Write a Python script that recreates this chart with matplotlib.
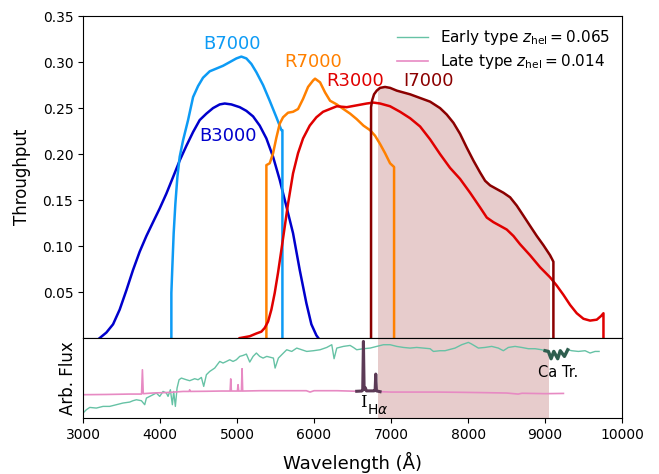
import numpy as np
import matplotlib
matplotlib.use("Agg")
import matplotlib.pyplot as plt
from matplotlib.patches import Rectangle

# ---------------- Throughput curves ----------------
b3000_wl = [3216, 3303, 3390, 3476, 3563, 3649, 3736, 3823, 3909, 3996, 4082, 4169,
            4255, 4342, 4429, 4515, 4602, 4688, 4775, 4840, 4926, 5035, 5121, 5208,
            5294, 5381, 5468, 5554, 5641, 5727, 5814, 5900, 5965, 6030, 6056]
b3000_tp = [0.000, 0.006, 0.015, 0.031, 0.052, 0.074, 0.094, 0.111, 0.126, 0.141,
            0.157, 0.175, 0.193, 0.209, 0.224, 0.237, 0.244, 0.250, 0.254, 0.255,
            0.254, 0.251, 0.247, 0.241, 0.231, 0.217, 0.197, 0.172, 0.143, 0.114,
            0.074, 0.038, 0.015, 0.003, 0.000]

b7000_wl = [4147, 4147, 4160, 4177, 4199, 4225, 4255, 4299, 4364, 4429, 4494, 4558,
            4645, 4732, 4818, 4905, 4991, 5056, 5121, 5186, 5251, 5338, 5424, 5511,
            5576, 5589, 5589]
b7000_tp = [0.000, 0.049, 0.078, 0.114, 0.146, 0.175, 0.197, 0.215, 0.237, 0.262,
            0.274, 0.283, 0.290, 0.293, 0.296, 0.300, 0.304, 0.306, 0.304, 0.298,
            0.289, 0.275, 0.258, 0.240, 0.226, 0.226, 0.000]

r7000_wl = [5381, 5381, 5424, 5468, 5511, 5554, 5597, 5662, 5727, 5792, 5857, 5922,
            5987, 6013, 6078, 6143, 6208, 6295, 6381, 6468, 6554, 6641, 6727, 6792,
            6857, 6922, 6987, 7039, 7039]
r7000_tp = [0.000, 0.188, 0.190, 0.201, 0.218, 0.233, 0.240, 0.245, 0.246, 0.249,
            0.260, 0.273, 0.280, 0.282, 0.278, 0.267, 0.258, 0.254, 0.249, 0.244,
            0.238, 0.231, 0.226, 0.220, 0.211, 0.201, 0.190, 0.186, 0.000]

r3000_wl = [5035, 5165, 5251, 5316, 5359, 5403, 5446, 5489, 5532, 5576, 5619, 5662,
            5727, 5792, 5857, 5944, 6030, 6117, 6295, 6424, 6554, 6684, 6771, 6857,
            6987, 7117, 7247, 7377, 7507, 7636, 7766, 7896, 8026, 8156, 8243, 8329,
            8416, 8502, 8589, 8675, 8805, 8935, 9065, 9152, 9238, 9325, 9411, 9498,
            9584, 9671, 9727, 9758, 9758]
r3000_tp = [0.000, 0.002, 0.005, 0.007, 0.011, 0.018, 0.031, 0.049, 0.071, 0.096,
            0.121, 0.146, 0.179, 0.201, 0.217, 0.231, 0.240, 0.246, 0.252, 0.251,
            0.253, 0.255, 0.256, 0.255, 0.252, 0.246, 0.239, 0.230, 0.216, 0.200,
            0.185, 0.173, 0.158, 0.142, 0.131, 0.126, 0.122, 0.118, 0.111, 0.102,
            0.090, 0.077, 0.066, 0.057, 0.047, 0.036, 0.027, 0.021, 0.019, 0.020,
            0.024, 0.027, 0.000]

i7000_wl = [6740, 6740, 6753, 6779, 6814, 6857, 6922, 6987, 7074, 7117, 7247, 7377,
            7507, 7636, 7723, 7810, 7896, 7983, 8069, 8156, 8221, 8286, 8372, 8459,
            8546, 8632, 8719, 8805, 8892, 8978, 9065, 9108, 9108]
i7000_tp = [0.000, 0.251, 0.258, 0.265, 0.269, 0.272, 0.273, 0.272, 0.269, 0.268,
            0.265, 0.261, 0.257, 0.250, 0.243, 0.234, 0.222, 0.207, 0.193, 0.180,
            0.171, 0.166, 0.162, 0.158, 0.153, 0.144, 0.133, 0.122, 0.111, 0.101,
            0.090, 0.083, 0.000]

grating_names = ["B3000", "B7000", "R7000", "R3000", "I7000"]
label_wl = [4883, 4935, 5991, 6532, 7481]
label_tp = [0.220, 0.320, 0.300, 0.280, 0.279]

# ---------------- Spectra ----------------
early_wl = [3000, 3043, 3087, 3173, 3260, 3346, 3433, 3519, 3606, 3649, 3693, 3758,
            3801, 3823, 3866, 3909, 3952, 3996, 4039, 4082, 4104, 4134, 4160, 4177,
            4199, 4221, 4247, 4277, 4342, 4385, 4450, 4494, 4537, 4567, 4602, 4645,
            4710, 4775, 4818, 4862, 4905, 4948, 4991, 5035, 5078, 5121, 5165, 5208,
            5251, 5294, 5338, 5386, 5472, 5494, 5537, 5602, 5645, 5710, 5775, 5840,
            5905, 5992, 6078, 6165, 6230, 6260, 6295, 6381, 6468, 6511, 6554, 6641,
            6728, 6814, 6901, 6987, 7074, 7160, 7247, 7333, 7420, 7507, 7550, 7637,
            7701, 7831, 7917, 8004, 8047, 8134, 8220, 8307, 8393, 8458, 8523, 8610,
            8696, 8783, 8870, 8956, 9000, 9043, 9078, 9113, 9164, 9197, 9251, 9294,
            9346, 9432, 9519, 9584, 9649, 9701]
early_flux = [0.063, 0.104, 0.133, 0.125, 0.146, 0.146, 0.167, 0.188, 0.200, 0.217,
              0.229, 0.217, 0.167, 0.250, 0.271, 0.292, 0.313, 0.271, 0.333, 0.313,
              0.271, 0.354, 0.167, 0.333, 0.146, 0.375, 0.479, 0.500, 0.479, 0.467,
              0.492, 0.479, 0.508, 0.396, 0.542, 0.583, 0.625, 0.708, 0.688, 0.708,
              0.729, 0.708, 0.729, 0.771, 0.783, 0.800, 0.700, 0.771, 0.813, 0.771,
              0.750, 0.771, 0.750, 0.625, 0.750, 0.813, 0.854, 0.833, 0.875, 0.854,
              0.833, 0.842, 0.854, 0.883, 0.917, 0.742, 0.875, 0.896, 0.908, 0.883,
              0.854, 0.867, 0.875, 0.896, 0.917, 0.917, 0.896, 0.883, 0.875, 0.883,
              0.875, 0.867, 0.833, 0.842, 0.842, 0.875, 0.917, 0.946, 0.925, 0.875,
              0.883, 0.896, 0.875, 0.842, 0.883, 0.896, 0.883, 0.867, 0.867, 0.854,
              0.842, 0.833, 0.742, 0.833, 0.742, 0.842, 0.771, 0.854, 0.842, 0.833,
              0.842, 0.813, 0.833, 0.833]

late_wl = [3000, 3300, 3600, 3760, 3771, 3782, 3900, 4100, 4300, 4378, 4385, 4392,
           4600, 4800, 4910, 4918, 4926, 5005, 5013, 5021, 5057, 5065, 5073, 5300,
           5600, 5900, 5948, 6000, 6300, 6554, 6620, 6632, 6641, 6650, 6665, 6680,
           6780, 6793, 6801, 6810, 6857, 7000, 7300, 7600, 7900, 8200, 8500, 8650,
           8700, 9000, 9238]
late_flux = [0.292, 0.295, 0.300, 0.300, 0.604, 0.305, 0.313, 0.320, 0.333, 0.333,
             0.354, 0.333, 0.335, 0.338, 0.338, 0.490, 0.338, 0.338, 0.417, 0.338,
             0.338, 0.617, 0.338, 0.342, 0.342, 0.342, 0.325, 0.342, 0.342, 0.335,
             0.338, 0.350, 0.958, 0.360, 0.380, 0.340, 0.340, 0.350, 0.550, 0.340,
             0.330, 0.325, 0.325, 0.325, 0.322, 0.318, 0.313, 0.300, 0.310, 0.305,
             0.308]

span_range = [6825, 9052]

# ---------------- Figure ----------------
fig = plt.figure(figsize=(6.59, 4.74), dpi=100)
gs = fig.add_gridspec(2, 1, height_ratios=[322, 80], hspace=0,
                      left=0.126, right=0.944, top=0.966, bottom=0.118)
ax1 = fig.add_subplot(gs[0])
ax2 = fig.add_subplot(gs[1], sharex=ax1)

colors = ["#0000cc", "#0d9bf5", "#ff8000", "#e00000", "#8b0000"]
curves = [(b3000_wl, b3000_tp), (b7000_wl, b7000_tp), (r7000_wl, r7000_tp),
          (r3000_wl, r3000_tp), (i7000_wl, i7000_tp)]
for (wl, tp), c in zip(curves, colors):
    ax1.plot(wl, tp, color=c, lw=1.8, solid_joinstyle="round")

fill = ax1.fill_between(i7000_wl, i7000_tp, 0, color="darkred", alpha=0.2, lw=0)
clip = Rectangle((span_range[0], 0), span_range[1] - span_range[0], 1,
                 transform=ax1.transData)
fill.set_clip_path(clip)

for name, x, y, c in zip(grating_names, label_wl, label_tp, colors):
    ax1.text(x, y, name, color=c, fontsize=13, ha="center", va="center")

ax1.set_ylim(0, 0.35)
ax1.set_yticks([0.05, 0.10, 0.15, 0.20, 0.25, 0.30, 0.35])
ax1.set_yticklabels(["0.05", "0.10", "0.15", "0.20", "0.25", "0.30", "0.35"])
ax1.tick_params(axis="x", bottom=False, labelbottom=False)
ax1.tick_params(axis="y", labelsize=10)
ax1.set_ylabel("Throughput", fontsize=12, labelpad=8)

# Spectra panel
early_wl_a = np.array(early_wl)
early_flux_a = np.array(early_flux)
late_wl_a = np.array(late_wl)
late_flux_a = np.array(late_flux)

ax2.axvspan(span_range[0], span_range[1], color="darkred", alpha=0.2, lw=0)
ax2.plot(early_wl_a, early_flux_a, color="#66c2a5", lw=1.0,
         label=r"Early type $z_{\rm hel} = 0.065$")
ax2.plot(late_wl_a, late_flux_a, color="#e78ac3", lw=1.2,
         label=r"Late type $z_{\rm hel} = 0.014$")

m_ha = (late_wl_a >= 6554) & (late_wl_a <= 6857)
ax2.plot(late_wl_a[m_ha], late_flux_a[m_ha], color="#5c3a56", lw=2.2)
m_ca = (early_wl_a >= 9000) & (early_wl_a <= 9294)
ax2.plot(early_wl_a[m_ca], early_flux_a[m_ca], color="#2f5e4f", lw=2.4)

ax2.text(6640, 0.19, "I", fontsize=12, family="DejaVu Serif", ha="center", va="center")
ax2.text(6688, 0.10, r"H$\alpha$", fontsize=10, ha="left", va="center")
ax2.text(9169, 0.575, "Ca Tr.", fontsize=10.5, ha="center", va="center")

ax2.set_ylim(0, 1)
ax2.set_yticks([])
ax2.set_xlim(3000, 10000)
ax2.set_xticks([3000, 4000, 5000, 6000, 7000, 8000, 9000, 10000])
ax2.tick_params(axis="x", labelsize=10)
ax2.set_xlabel("Wavelength (Å)", fontsize=13, labelpad=7)
ax2.set_ylabel("Arb. Flux", fontsize=12)

h, l = ax2.get_legend_handles_labels()
ax1.legend(h, l, loc="upper right", frameon=False, fontsize=11,
           labelspacing=0.3, borderaxespad=0.4)

fig.savefig("out.png", dpi=100)
